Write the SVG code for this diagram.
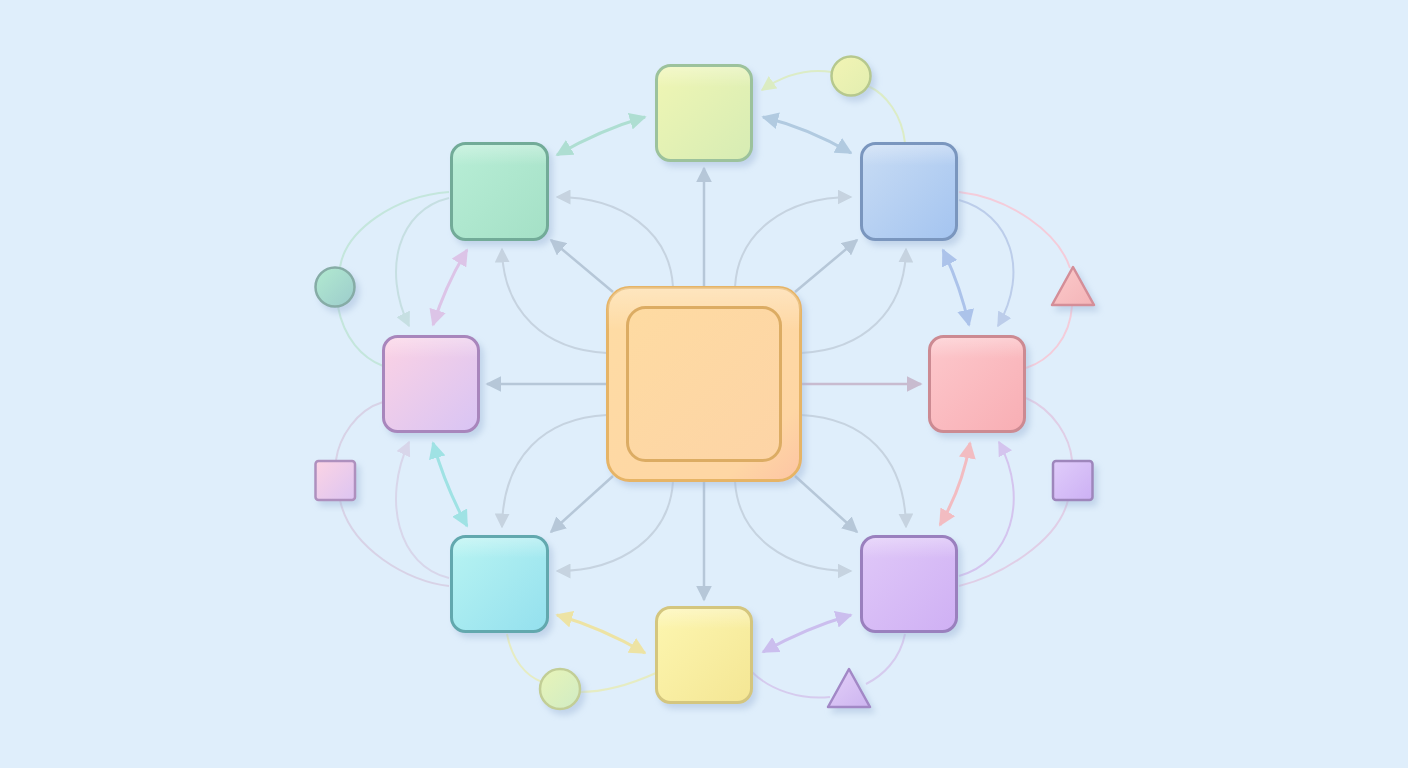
<svg xmlns="http://www.w3.org/2000/svg" width="1408" height="768" viewBox="0 0 1408 768">
<defs>
<style>
.node{stroke-width:3}
.gl{fill:url(#gloss);stroke:none}
.st{fill:none;stroke:#b6c7d8;stroke-width:2.5}
.cv{fill:none;stroke:#c6d3e0;stroke-width:2}
.db{fill:none;stroke-width:3;opacity:0.85}
.pale{fill:none;stroke-width:2}
</style>
<filter id="sh" x="-20%" y="-20%" width="150%" height="150%"><feDropShadow dx="4" dy="5" stdDeviation="3" flood-color="#9db5d6" flood-opacity="0.45"/></filter>
<linearGradient id="gloss" x1="0" y1="0" x2="0" y2="1"><stop offset="0" stop-color="#fff" stop-opacity="0.3"/><stop offset="0.22" stop-color="#fff" stop-opacity="0"/></linearGradient>
<linearGradient id="gTop" x1="0" y1="0" x2="1" y2="1"><stop offset="0" stop-color="#f0f6b4"/><stop offset="1" stop-color="#d6ecb4"/></linearGradient>
<linearGradient id="gTL" x1="0" y1="0" x2="1" y2="1"><stop offset="0" stop-color="#b8eed6"/><stop offset="1" stop-color="#a4e0c6"/></linearGradient>
<linearGradient id="gTR" x1="0" y1="0" x2="1" y2="1"><stop offset="0" stop-color="#c8dcf4"/><stop offset="1" stop-color="#a4c4f0"/></linearGradient>
<linearGradient id="gR" x1="0" y1="0" x2="1" y2="1"><stop offset="0" stop-color="#fdc8cc"/><stop offset="1" stop-color="#f8aeb4"/></linearGradient>
<linearGradient id="gBR" x1="0" y1="0" x2="1" y2="1"><stop offset="0" stop-color="#e0c8f8"/><stop offset="1" stop-color="#cfb0f4"/></linearGradient>
<linearGradient id="gB" x1="0" y1="0" x2="1" y2="1"><stop offset="0" stop-color="#fdf6b0"/><stop offset="1" stop-color="#f4e694"/></linearGradient>
<linearGradient id="gBL" x1="0" y1="0" x2="1" y2="1"><stop offset="0" stop-color="#b8f4f2"/><stop offset="1" stop-color="#94e0ee"/></linearGradient>
<linearGradient id="gL" x1="0" y1="0" x2="1" y2="1"><stop offset="0" stop-color="#fcd2e4"/><stop offset="1" stop-color="#d8c4f4"/></linearGradient>
<linearGradient id="gC" x1="0" y1="0" x2="1" y2="1"><stop offset="0" stop-color="#fedca4"/><stop offset="0.8" stop-color="#fed6a4"/><stop offset="1" stop-color="#fdc4a4"/></linearGradient>
<linearGradient id="gCi" x1="0" y1="0" x2="1" y2="1"><stop offset="0" stop-color="#fedba2"/><stop offset="1" stop-color="#fdd4a6"/></linearGradient>
<linearGradient id="gc1" x1="0" y1="0" x2="1" y2="1"><stop offset="0" stop-color="#f2f4b4"/><stop offset="1" stop-color="#e2eeb0"/></linearGradient>
<linearGradient id="gc2" x1="0" y1="0" x2="1" y2="1"><stop offset="0" stop-color="#b2ead0"/><stop offset="1" stop-color="#9ccccc"/></linearGradient>
<linearGradient id="gc3" x1="0" y1="0" x2="1" y2="1"><stop offset="0" stop-color="#e8f4b8"/><stop offset="1" stop-color="#d0ecc4"/></linearGradient>
<linearGradient id="gt1" x1="0" y1="0" x2="1" y2="1"><stop offset="0" stop-color="#fbcaca"/><stop offset="1" stop-color="#f4b4b8"/></linearGradient>
<linearGradient id="gt2" x1="0" y1="0" x2="1" y2="1"><stop offset="0" stop-color="#e4d0f8"/><stop offset="1" stop-color="#ccb4f0"/></linearGradient>
<linearGradient id="gs1" x1="0" y1="0" x2="1" y2="1"><stop offset="0" stop-color="#fcd4e4"/><stop offset="1" stop-color="#dcc4f2"/></linearGradient>
<linearGradient id="gs2" x1="0" y1="0" x2="1" y2="1"><stop offset="0" stop-color="#e0ccfa"/><stop offset="1" stop-color="#ccb0f4"/></linearGradient>
<marker id="mSt" viewBox="0 0 10 10" refX="9" refY="5" markerUnits="userSpaceOnUse" markerWidth="16" markerHeight="16" orient="auto-start-reverse"><path d="M0,0 L10,5 L0,10 z" fill="#b6c7d8"/></marker>
<marker id="mStR" viewBox="0 0 10 10" refX="9" refY="5" markerUnits="userSpaceOnUse" markerWidth="16" markerHeight="16" orient="auto-start-reverse"><path d="M0,0 L10,5 L0,10 z" fill="#c8bbcf"/></marker>
<marker id="mCv" viewBox="0 0 10 10" refX="9" refY="5" markerUnits="userSpaceOnUse" markerWidth="15" markerHeight="15" orient="auto-start-reverse"><path d="M0,0 L10,5 L0,10 z" fill="#c6d3e0"/></marker>
<marker id="m1" viewBox="0 0 10 10" refX="9" refY="5" markerUnits="userSpaceOnUse" markerWidth="17" markerHeight="17" orient="auto-start-reverse"><path d="M0,0 L10,5 L0,10 z" fill="#a6dccb"/></marker>
<marker id="m2" viewBox="0 0 10 10" refX="9" refY="5" markerUnits="userSpaceOnUse" markerWidth="17" markerHeight="17" orient="auto-start-reverse"><path d="M0,0 L10,5 L0,10 z" fill="#a9c4dc"/></marker>
<marker id="m3" viewBox="0 0 10 10" refX="9" refY="5" markerUnits="userSpaceOnUse" markerWidth="17" markerHeight="17" orient="auto-start-reverse"><path d="M0,0 L10,5 L0,10 z" fill="#a4bce8"/></marker>
<marker id="m4" viewBox="0 0 10 10" refX="9" refY="5" markerUnits="userSpaceOnUse" markerWidth="17" markerHeight="17" orient="auto-start-reverse"><path d="M0,0 L10,5 L0,10 z" fill="#f6b4b8"/></marker>
<marker id="m5" viewBox="0 0 10 10" refX="9" refY="5" markerUnits="userSpaceOnUse" markerWidth="17" markerHeight="17" orient="auto-start-reverse"><path d="M0,0 L10,5 L0,10 z" fill="#c8b6ec"/></marker>
<marker id="m6" viewBox="0 0 10 10" refX="9" refY="5" markerUnits="userSpaceOnUse" markerWidth="17" markerHeight="17" orient="auto-start-reverse"><path d="M0,0 L10,5 L0,10 z" fill="#f0e296"/></marker>
<marker id="m7" viewBox="0 0 10 10" refX="9" refY="5" markerUnits="userSpaceOnUse" markerWidth="17" markerHeight="17" orient="auto-start-reverse"><path d="M0,0 L10,5 L0,10 z" fill="#94e0e0"/></marker>
<marker id="m8" viewBox="0 0 10 10" refX="9" refY="5" markerUnits="userSpaceOnUse" markerWidth="17" markerHeight="17" orient="auto-start-reverse"><path d="M0,0 L10,5 L0,10 z" fill="#dcbde4"/></marker>
<marker id="pTeal" viewBox="0 0 10 10" refX="9" refY="5" markerUnits="userSpaceOnUse" markerWidth="15" markerHeight="15" orient="auto"><path d="M0,0 L10,5 L0,10 z" fill="#c6dfe2"/></marker>
<marker id="pLil" viewBox="0 0 10 10" refX="9" refY="5" markerUnits="userSpaceOnUse" markerWidth="15" markerHeight="15" orient="auto"><path d="M0,0 L10,5 L0,10 z" fill="#d8d6ea"/></marker>
<marker id="pYel" viewBox="0 0 10 10" refX="9" refY="5" markerUnits="userSpaceOnUse" markerWidth="15" markerHeight="15" orient="auto"><path d="M0,0 L10,5 L0,10 z" fill="#dbecc2"/></marker>
<marker id="pBlu" viewBox="0 0 10 10" refX="9" refY="5" markerUnits="userSpaceOnUse" markerWidth="15" markerHeight="15" orient="auto"><path d="M0,0 L10,5 L0,10 z" fill="#bccdea"/></marker>
<marker id="pPur" viewBox="0 0 10 10" refX="9" refY="5" markerUnits="userSpaceOnUse" markerWidth="15" markerHeight="15" orient="auto"><path d="M0,0 L10,5 L0,10 z" fill="#d4c4ee"/></marker>
</defs>
<rect width="1408" height="768" fill="#dfeefb"/>
<g id="connectors">
<path class="pale" stroke="#c4e6dc" d="M449,192 C395,196 346,230 340,267"/>
<path class="pale" stroke="#c4e6dc" d="M338,307 C344,338 362,358 383,366"/>
<path class="pale" stroke="#c6dfe2" marker-end="url(#pTeal)" d="M449,198 C398,210 382,270 409,326"/>
<path class="pale" stroke="#d8d2e6" d="M383,402 C356,410 339,438 336,460"/>
<path class="pale" stroke="#d8d2e6" d="M340,500 C350,548 408,582 449,586"/>
<path class="pale" stroke="#d8d6ea" marker-end="url(#pLil)" d="M449,578 C398,566 382,500 409,442"/>
<path class="pale" stroke="#dcecc6" d="M905,143 C902,115 886,94 868,86"/>
<path class="pale" stroke="#dcecc6" marker-end="url(#pYel)" d="M832,72 C806,68 782,76 762,90"/>
<path class="pale" stroke="#f4ccda" d="M959,192 C1010,198 1058,232 1070,268"/>
<path class="pale" stroke="#f4ccda" d="M1072,306 C1070,338 1050,360 1026,368"/>
<path class="pale" stroke="#bccdea" marker-end="url(#pBlu)" d="M959,200 C1010,214 1030,270 998,326"/>
<path class="pale" stroke="#e0cee6" d="M1026,398 C1054,410 1070,438 1072,460"/>
<path class="pale" stroke="#e0cee6" d="M1068,500 C1058,542 1000,576 959,586"/>
<path class="pale" stroke="#d4c4ee" marker-end="url(#pPur)" d="M959,576 C1010,562 1030,500 999,442"/>
<path class="pale" stroke="#d6cbee" d="M905,634 C900,660 882,676 866,684"/>
<path class="pale" stroke="#d6cbee" d="M830,697 C800,700 770,690 752,672"/>
<path class="pale" stroke="#e6ecc2" d="M507,634 C512,660 526,676 542,682"/>
<path class="pale" stroke="#e6ecc2" d="M580,692 C610,692 636,682 656,673"/>
<path class="cv" marker-end="url(#mCv)" d="M673,287 C670,232 622,197 557,197"/>
<path class="cv" marker-end="url(#mCv)" d="M607,353 C545,350 503,312 502,249"/>
<path class="cv" marker-end="url(#mCv)" d="M735,287 C738,232 786,197 851,197"/>
<path class="cv" marker-end="url(#mCv)" d="M801,353 C863,350 905,312 906,249"/>
<path class="cv" marker-end="url(#mCv)" d="M607,415 C545,418 503,456 502,527"/>
<path class="cv" marker-end="url(#mCv)" d="M673,481 C670,536 622,571 557,571"/>
<path class="cv" marker-end="url(#mCv)" d="M801,415 C863,418 905,456 906,527"/>
<path class="cv" marker-end="url(#mCv)" d="M735,481 C738,536 786,571 851,571"/>
<path class="st" marker-end="url(#mSt)" d="M704,287 L704,168"/>
<path class="st" marker-end="url(#mSt)" d="M704,481 L704,600"/>
<path class="st" marker-end="url(#mSt)" d="M607,384 L487,384"/>
<path class="st" style="stroke:#c8bbcf" marker-end="url(#mStR)" d="M801,384 L921,384"/>
<path class="st" marker-end="url(#mSt)" d="M613,292 L551,240"/>
<path class="st" marker-end="url(#mSt)" d="M795,292 L857,240"/>
<path class="st" marker-end="url(#mSt)" d="M613,476 L551,532"/>
<path class="st" marker-end="url(#mSt)" d="M795,476 L857,532"/>
<path class="db" stroke="#a6dccb" marker-start="url(#m1)" marker-end="url(#m1)" d="M557,155 Q600,130 645,117"/>
<path class="db" stroke="#a9c4dc" marker-start="url(#m2)" marker-end="url(#m2)" d="M763,117 Q808,128 851,153"/>
<path class="db" stroke="#a4bce8" marker-start="url(#m3)" marker-end="url(#m3)" d="M943,250 Q960,285 969,325"/>
<path class="db" stroke="#f6b4b8" marker-start="url(#m4)" marker-end="url(#m4)" d="M970,443 Q962,488 940,525"/>
<path class="db" stroke="#c8b6ec" marker-start="url(#m5)" marker-end="url(#m5)" d="M851,615 Q806,628 763,652"/>
<path class="db" stroke="#f0e296" marker-start="url(#m6)" marker-end="url(#m6)" d="M645,653 Q602,628 557,615"/>
<path class="db" stroke="#94e0e0" marker-start="url(#m7)" marker-end="url(#m7)" d="M467,526 Q446,488 433,443"/>
<path class="db" stroke="#dcbde4" marker-start="url(#m8)" marker-end="url(#m8)" d="M433,325 Q446,284 467,250"/>
</g>
<g id="node-center" filter="url(#sh)">
<rect x="607.5" y="287.5" width="193" height="193" rx="22" fill="url(#gC)" stroke="#e6b466" stroke-width="3"/>
<rect x="607.5" y="287.5" width="193" height="193" rx="22" class="gl"/>
<rect x="627.5" y="307.5" width="153" height="153" rx="18" fill="url(#gCi)" stroke="#dcac64" stroke-width="3"/>
</g>
<g id="node-top" filter="url(#sh)"><rect class="node" x="656.5" y="65.5" width="95" height="95" rx="14" fill="url(#gTop)" stroke="#9cc29c"/><rect class="gl" x="658" y="67" width="92" height="92" rx="13"/></g>
<g id="node-topleft" filter="url(#sh)"><rect class="node" x="451.5" y="143.5" width="96" height="96" rx="14" fill="url(#gTL)" stroke="#72ab98"/><rect class="gl" x="453" y="145" width="93" height="93" rx="13"/></g>
<g id="node-topright" filter="url(#sh)"><rect class="node" x="861.5" y="143.5" width="95" height="96" rx="14" fill="url(#gTR)" stroke="#7a96be"/><rect class="gl" x="863" y="145" width="92" height="93" rx="13"/></g>
<g id="node-right" filter="url(#sh)"><rect class="node" x="929.5" y="336.5" width="95" height="95" rx="14" fill="url(#gR)" stroke="#cc8a92"/><rect class="gl" x="931" y="338" width="92" height="92" rx="13"/></g>
<g id="node-bottomright" filter="url(#sh)"><rect class="node" x="861.5" y="536.5" width="95" height="95" rx="14" fill="url(#gBR)" stroke="#9a80be"/><rect class="gl" x="863" y="538" width="92" height="92" rx="13"/></g>
<g id="node-bottom" filter="url(#sh)"><rect class="node" x="656.5" y="607.5" width="95" height="95" rx="14" fill="url(#gB)" stroke="#d4c67e"/><rect class="gl" x="658" y="609" width="92" height="92" rx="13"/></g>
<g id="node-bottomleft" filter="url(#sh)"><rect class="node" x="451.5" y="536.5" width="96" height="95" rx="14" fill="url(#gBL)" stroke="#62a8ae"/><rect class="gl" x="453" y="538" width="93" height="92" rx="13"/></g>
<g id="node-left" filter="url(#sh)"><rect class="node" x="383.5" y="336.5" width="95" height="95" rx="14" fill="url(#gL)" stroke="#a886bc"/><rect class="gl" x="385" y="338" width="92" height="92" rx="13"/></g>
<g id="shape-circle-top" filter="url(#sh)"><circle cx="851" cy="76" r="19.5" fill="url(#gc1)" stroke="#b6c88e" stroke-width="2.5"/></g>
<g id="shape-circle-left" filter="url(#sh)"><circle cx="335" cy="287" r="19.5" fill="url(#gc2)" stroke="#86aca6" stroke-width="2.5"/></g>
<g id="shape-circle-bottom" filter="url(#sh)"><circle cx="560" cy="689" r="20" fill="url(#gc3)" stroke="#c2ce96" stroke-width="2.5"/></g>
<g id="shape-triangle-right" filter="url(#sh)"><path d="M1073,267 L1094,305 L1052,305 Z" fill="url(#gt1)" stroke="#d48e98" stroke-width="2.5" stroke-linejoin="round"/></g>
<g id="shape-triangle-bottom" filter="url(#sh)"><path d="M849,669 L870,707 L828,707 Z" fill="url(#gt2)" stroke="#a288c6" stroke-width="2.5" stroke-linejoin="round"/></g>
<g id="shape-square-left" filter="url(#sh)"><rect x="315.5" y="461" width="39.5" height="39" rx="3" fill="url(#gs1)" stroke="#ae90be" stroke-width="2.5"/></g>
<g id="shape-square-right" filter="url(#sh)"><rect x="1053" y="461" width="39.5" height="39" rx="3" fill="url(#gs2)" stroke="#9e86bc" stroke-width="2.5"/></g>
</svg>
